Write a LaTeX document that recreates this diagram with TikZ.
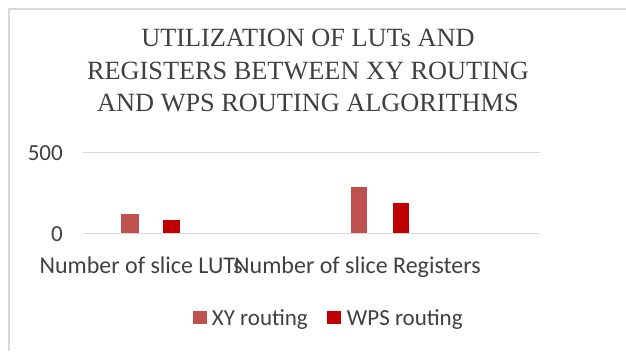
\documentclass[tikz,border=0pt]{standalone}
\usepackage{fontspec}
\setmainfont{Carlito}
\newfontfamily\titlefont{Liberation Serif}
\usetikzlibrary{positioning}
\definecolor{framegray}{RGB}{217,217,217}
\definecolor{textgray}{RGB}{64,64,64}
\definecolor{xycol}{RGB}{192,80,77}
\definecolor{wpscol}{RGB}{192,0,0}
\tikzset{
  lbl/.style={inner sep=0pt, text=textgray, font=\fontsize{23}{27}\selectfont},
  grid line/.style={draw=framegray, line width=1.5pt}
}
\begin{document}
\begin{tikzpicture}[x=1pt, y=-1pt]
  \useasboundingbox (0,0) rectangle (626,351);
  \draw[framegray, line width=2pt](8.5,351)--(8.5,8.5)--(626,8.5);
  \node[inner sep=0pt, text=textgray, align=center,
    font=\titlefont\fontsize{26.3}{32.5}\selectfont] (title) at (308,70.5)
    {UTILIZATION OF LUTs AND\\REGISTERS BETWEEN XY ROUTING\\AND WPS ROUTING ALGORITHMS};
  \coordinate (g0l) at (83,233.3);
  \coordinate (g0r) at (540,233.3);
  \coordinate (g5l) at (83,152.3);
  \coordinate (g5r) at (540,152.3);
  \draw[grid line](g5l)--(g5r);
  \draw[grid line](g0l)--(g0r);
  \node[lbl, anchor=base east] (y500) at (63,160.7) {500};
  \node[lbl, anchor=base east] (y0) at (63,241) {0};
  \fill[xycol] (121,233.3) rectangle (139,233.3-117*0.1626);
  \fill[wpscol] (163,233.3) rectangle (179.5,233.3-80*0.1626);
  \fill[xycol] (350.5,233.3) rectangle (367,233.3-287*0.1626);
  \fill[wpscol] (392.5,233.3) rectangle (409,233.3-188*0.1626);
  \node[lbl, anchor=base west, font=\fontsize{24}{28}\selectfont] (cat1) at (39.3,273.3) {Number of slice LUTs};
  \node[lbl, anchor=base west, font=\fontsize{24}{28}\selectfont] (cat2) at (234,273.3) {Number of slice Registers};
  \fill[xycol] (193.3,311) rectangle (207,324);
  \node[lbl, anchor=base west] (leg1) at (211.7,325) {XY routing};
  \fill[wpscol] (327.3,311) rectangle (340.7,324);
  \node[lbl, anchor=base west] (leg2) at (346.7,325) {WPS routing};
\end{tikzpicture}
\end{document}
